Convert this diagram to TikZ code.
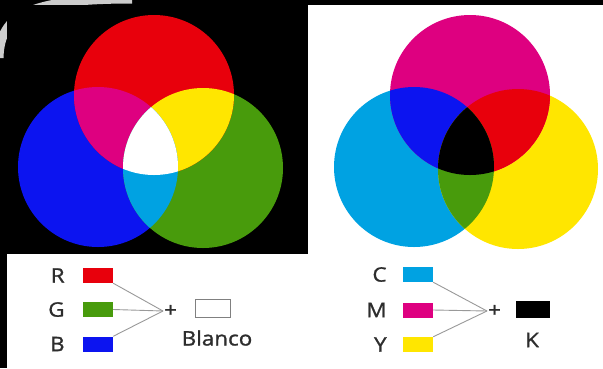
\documentclass[tikz,border=0pt]{standalone}
\usepackage{fontspec}
\setmainfont{Open Sans}[FakeBold=1.2, FakeStretch=1.12]
\usetikzlibrary{positioning}

\definecolor{rojo}{RGB}{232,0,12}
\definecolor{verde}{RGB}{72,155,12}
\definecolor{azul}{RGB}{12,20,240}
\definecolor{cian}{RGB}{0,162,226}
\definecolor{magenta}{RGB}{222,0,128}
\definecolor{amarillo}{RGB}{255,230,0}
\definecolor{texto}{RGB}{45,45,45}

% circles of the two panels
\def\circR{(154,95) circle (80)}
\def\circG{(203,168) circle (80)}
\def\circB{(98,167) circle (80)}
\def\circM{(470,95) circle (80)}
\def\circY{(518,169) circle (80)}
\def\circC{(414,167) circle (80)}

\begin{document}
\begin{tikzpicture}[x=1pt, y=-1pt,
    swatch/.style={rectangle, minimum width=30pt, minimum height=15pt, inner sep=0pt},
    tag/.style={font=\fontsize{20}{20}\selectfont, text=texto, inner sep=1pt},
    link/.style={draw=gray!80, line width=0.9pt}
]
    \useasboundingbox (0,0) rectangle (603,368);
    \fill[white] (0,0) rectangle (603,368);

    % dark frame and glow
    \fill[black] (0,0) rectangle (603,5);
    \fill[black] (0,0) rectangle (7,368);
    \draw[white, opacity=0.8, line width=9pt] (-1,58) .. controls (0,14) and (30,-1) .. (132,-1);
    \fill[black] (7,5) rectangle (308,254);

    % additive panel
    \fill[azul] \circB;
    \fill[verde] \circG;
    \fill[rojo] \circR;
    \begin{scope}
        \clip \circR;
        \fill[magenta] \circB;
        \fill[amarillo] \circG;
    \end{scope}
    \begin{scope}
        \clip \circB;
        \fill[cian] \circG;
        \clip \circG;
        \fill[white] \circR;
    \end{scope}

    % subtractive panel
    \fill[cian] \circC;
    \fill[amarillo] \circY;
    \fill[magenta] \circM;
    \begin{scope}
        \clip \circM;
        \fill[azul] \circC;
        \fill[rojo] \circY;
    \end{scope}
    \begin{scope}
        \clip \circC;
        \fill[verde] \circY;
        \clip \circY;
        \fill[black] \circM;
    \end{scope}

    % RGB legend
    \node[swatch, fill=rojo] (r) at (98,275.5) {};
    \node[swatch, fill=verde] (g) at (98,309.5) {};
    \node[swatch, fill=azul] (b) at (98,344) {};
    \node[tag, left=17pt of r] {R};
    \node[tag, left=17pt of g] {G};
    \node[tag, left=17pt of b] {B};
    \coordinate (rgbjoin) at (163,311);
    \node[tag, right=0pt of rgbjoin] (plusrgb) {+};
    \node[swatch, draw=gray, fill=white, minimum width=35pt, minimum height=18pt] (blanco) at (212.5,308) {};
    \node[tag] (blancotxt) at (217,338) {Blanco};
    \draw[link] (r.south east) -- (rgbjoin);
    \draw[link] (g.east) -- (rgbjoin);
    \draw[link] (b.north east) -- (rgbjoin);

    % CMY legend
    \node[swatch, fill=cian] (c) at (418,274.5) {};
    \node[swatch, fill=magenta] (m) at (418,310) {};
    \node[swatch, fill=amarillo] (y) at (418,344.5) {};
    \node[tag, left=15pt of c] {C};
    \node[tag, left=15pt of m] {M};
    \node[tag, left=15pt of y] {Y};
    \coordinate (cmyjoin) at (487,311);
    \node[tag, right=0pt of cmyjoin] (pluscmy) {+};
    \node[swatch, fill=black, minimum width=34pt, minimum height=17pt] (negro) at (533,309.5) {};
    \node[tag] (negrotxt) at (532,340) {K};
    \draw[link] (c.south east) -- (cmyjoin);
    \draw[link] (m.east) -- (cmyjoin);
    \draw[link] (y.north east) -- (cmyjoin);
\end{tikzpicture}
\end{document}
